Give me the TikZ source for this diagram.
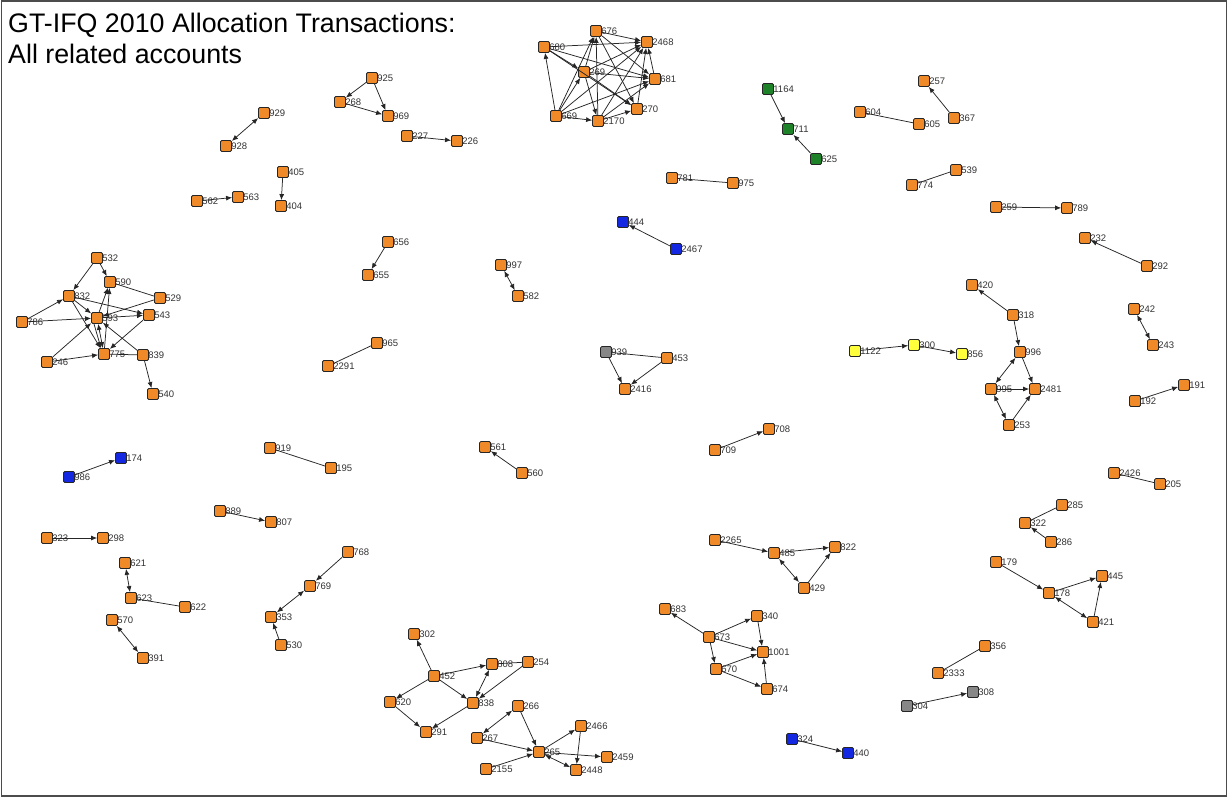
\documentclass[tikz,border=0pt]{standalone}
\usepackage{fontspec}
\setmainfont{Liberation Sans}
\usetikzlibrary{arrows.meta}
\definecolor{acorange}{RGB}{240,138,40}
\definecolor{acblue}{RGB}{20,40,225}
\definecolor{acgreen}{RGB}{30,130,40}
\definecolor{acyellow}{RGB}{255,255,60}
\definecolor{acgray}{RGB}{135,135,135}
\tikzset{
  acct/.style={rectangle, rounded corners=1.3pt, draw=black!85, line width=0.8pt,
    minimum size=11pt, inner sep=0pt},
  lbl/.style={font=\fontsize{9.5}{10}\selectfont, text=black!80, inner sep=0.3pt},
  tx/.style={draw=black!85, line width=0.75pt, -{Latex[length=6pt,width=5pt]}},
  bi/.style={draw=black!85, line width=0.75pt,
    {Latex[length=6pt,width=5pt]}-{Latex[length=6pt,width=5pt]}},
  ln/.style={draw=black!85, line width=0.75pt},
}
% one account: name, x, y, fill colour
\newcommand{\acct}[4]{\node[acct, fill=#4, label={[lbl]east:#1}] (n#1) at (#2,#3) {};}
\newcommand{\oacct}[3]{\acct{#1}{#2}{#3}{acorange}}
\begin{document}
\begin{tikzpicture}[x=1pt, y=-1pt, label distance=-1pt]
\useasboundingbox (0,0) rectangle (1228,801);
\fill[white] (0,0) rectangle (1228,801);
\draw[black!70, line width=1.6pt] (1.5,1) rectangle (1226.5,796);

\node[anchor=base west, font=\fontsize{26.8}{30}\selectfont, inner sep=0pt] (title1) at (8,32) {GT-IFQ 2010 Allocation Transactions:};
\node[anchor=base west, font=\fontsize{26.8}{30}\selectfont, inner sep=0pt] (title2) at (8,63) {All related accounts};

% ---- accounts ----
\oacct{925}{372}{78} \oacct{268}{340}{102} \oacct{969}{388}{116}
\oacct{227}{407}{136} \oacct{226}{457}{141}
\oacct{929}{264}{113} \oacct{928}{226}{146}
\oacct{405}{283}{172} \oacct{404}{281}{206}
\oacct{562}{197}{201} \oacct{563}{238}{197}

\oacct{676}{596}{31} \oacct{680}{544}{47} \oacct{2468}{647}{42} \oacct{269}{584}{72}
\oacct{681}{655}{79} \oacct{270}{637}{109} \oacct{669}{556}{116} \oacct{2170}{598}{121}

\oacct{781}{672}{178} \oacct{975}{733}{183}
\oacct{997}{501}{265} \oacct{582}{518}{296}
\oacct{453}{667}{358} \oacct{2416}{625}{389}

\oacct{257}{924}{81} \oacct{604}{860}{112} \oacct{605}{919}{124} \oacct{367}{954}{118}
\oacct{539}{956}{170} \oacct{774}{912}{185}
\oacct{259}{996}{207} \oacct{789}{1067}{208}
\oacct{232}{1085}{238} \oacct{292}{1147}{266}
\oacct{420}{972}{285} \oacct{318}{1013}{315}
\oacct{242}{1134}{309} \oacct{243}{1153}{345}
\oacct{996}{1020}{352} \oacct{995}{991}{389} \oacct{2481}{1035}{389} \oacct{253}{1009}{425}
\oacct{191}{1184}{385} \oacct{192}{1135}{401}
\oacct{2426}{1114}{473} \oacct{205}{1160}{484}
\oacct{285}{1062}{505} \oacct{322}{1025}{523} \oacct{286}{1051}{542}
\oacct{179}{996}{562} \oacct{445}{1102}{576} \oacct{178}{1049}{593} \oacct{421}{1093}{622}
\oacct{356}{985}{646} \oacct{2333}{938}{673}

\oacct{532}{97}{258} \oacct{590}{110}{282} \oacct{832}{69}{296} \oacct{529}{160}{298}
\oacct{786}{22}{322} \oacct{593}{97}{318} \oacct{543}{149}{315} \oacct{246}{47}{362}
\oacct{775}{104}{354} \oacct{839}{143}{355} \oacct{540}{153}{394}
\oacct{656}{388}{242} \oacct{655}{368}{275}
\oacct{965}{377}{343} \oacct{2291}{328}{366}

\oacct{919}{270}{448} \oacct{195}{331}{468}
\oacct{889}{220}{511} \oacct{807}{271}{522}
\oacct{323}{47}{538} \oacct{298}{103}{538}
\oacct{621}{125}{563} \oacct{623}{131}{598} \oacct{622}{185}{607}
\oacct{570}{112}{620} \oacct{391}{143}{658}
\oacct{768}{348}{552} \oacct{769}{310}{586} \oacct{353}{271}{617} \oacct{530}{281}{645}

\oacct{561}{485}{447} \oacct{560}{522}{473}
\oacct{708}{769}{429} \oacct{709}{715}{450}
\oacct{2265}{715}{540} \oacct{485}{774}{553} \oacct{822}{835}{547} \oacct{429}{804}{588}
\oacct{683}{665}{609} \oacct{340}{757}{616} \oacct{673}{709}{637} \oacct{1001}{763}{652}
\oacct{670}{716}{669} \oacct{674}{767}{689}

\oacct{302}{414}{634} \oacct{808}{492}{664} \oacct{254}{528}{662} \oacct{452}{434}{676}
\oacct{620}{390}{702} \oacct{838}{473}{703} \oacct{291}{426}{732}
\oacct{266}{518}{706} \oacct{267}{477}{738} \oacct{2466}{581}{726} \oacct{265}{539}{752}
\oacct{2459}{607}{757} \oacct{2155}{486}{769} \oacct{2448}{576}{770}

\acct{444}{623}{222}{acblue} \acct{2467}{676}{249}{acblue}
\acct{174}{121}{458}{acblue} \acct{986}{69}{477}{acblue}
\acct{324}{792}{739}{acblue} \acct{440}{848}{753}{acblue}

\acct{1164}{768}{89}{acgreen} \acct{711}{788}{129}{acgreen} \acct{625}{816}{159}{acgreen}

\acct{1122}{855}{351}{acyellow} \acct{300}{914}{345}{acyellow} \acct{856}{962}{354}{acyellow}

\acct{939}{606}{352}{acgray} \acct{304}{907}{706}{acgray} \acct{308}{973}{692}{acgray}

% ---- transfers ----
\draw[tx] (n925) -- (n268);
\draw[tx] (n925) -- (n969);
\draw[tx] (n268) -- (n969);
\draw[tx] (n227) -- (n226);
\draw[bi] (n928) -- (n929);
\draw[tx] (n405) -- (n404);
\draw[tx] (n562) -- (n563);

% dense group at the top
\draw[tx] (n680) -- (n2468);
\draw[tx] (n680) -- (n681);
\draw[tx] (n680) -- (n270);
\draw[tx] (n669) -- (n680);
\draw[tx] (n669) -- (n676);
\draw[tx] (n669) -- (n269);
\draw[tx] (n669) -- (n2468);
\draw[tx] (n669) -- (n681);
\draw[tx] (n669) -- (n2170);
\draw[tx] (n676) -- (n2468);
\draw[tx] (n676) -- (n681);
\draw[tx] (n676) -- (n270);
\draw[tx] (n269) -- (n676);
\draw[tx] (n269) -- (n2468);
\draw[tx] (n269) -- (n681);
\draw[tx] (n269) -- (n2170);
\draw[tx] (n269) -- (n270);
\draw[tx] (n2170) -- (n676);
\draw[tx] (n2170) -- (n2468);
\draw[tx] (n2170) -- (n681);
\draw[tx] (n2170) -- (n270);
\draw[tx] (n270) -- (n2468);
\draw[tx] (n681) -- (n2468);
\draw[tx] (n680) -- (n269);

\draw[ln] (n781) -- (n975);
\draw[tx] (n2467) -- (n444);
\draw[bi] (n997) -- (n582);
\draw[ln] (n939) -- (n453);
\draw[tx] (n939) -- (n2416);
\draw[tx] (n453) -- (n2416);
\draw[tx] (n1164) -- (n711);
\draw[tx] (n625) -- (n711);

\draw[tx] (n367) -- (n257);
\draw[ln] (n604) -- (n605);
\draw[ln] (n774) -- (n539);
\draw[tx] (n259) -- (n789);
\draw[tx] (n292) -- (n232);
\draw[tx] (n318) -- (n420);
\draw[tx] (n318) -- (n996);
\draw[bi] (n242) -- (n243);
\draw[tx] (n1122) -- (n300);
\draw[tx] (n300) -- (n856);
\draw[bi] (n995) -- (n996);
\draw[tx] (n996) -- (n2481);
\draw[tx] (n995) -- (n2481);
\draw[bi] (n995) -- (n253);
\draw[tx] (n253) -- (n2481);
\draw[tx] (n192) -- (n191);
\draw[ln] (n2426) -- (n205);
\draw[ln] (n285) -- (n322);
\draw[tx] (n286) -- (n322);
\draw[tx] (n179) -- (n178);
\draw[tx] (n178) -- (n445);
\draw[bi] (n178) -- (n421);
\draw[tx] (n421) -- (n445);
\draw[ln] (n356) -- (n2333);
\draw[tx] (n304) -- (n308);

% group on the left
\draw[tx] (n532) -- (n832);
\draw[tx] (n532) -- (n590);
\draw[tx] (n786) -- (n832);
\draw[tx] (n786) -- (n593);
\draw[tx] (n832) -- (n593);
\draw[tx] (n832) -- (n775);
\draw[tx] (n832) -- (n543);
\draw[ln] (n590) -- (n529);
\draw[tx] (n529) -- (n593);
\draw[tx] (n593) -- (n590);
\draw[tx] (n775) -- (n590);
\draw[tx] (n593) -- (n543);
\draw[bi] (n593) -- (n775);
\draw[tx] ([xshift=-3pt]n593.south) -- ([xshift=-3pt]n775.north);
\draw[tx] (n246) -- (n593);
\draw[tx] (n246) -- (n775);
\draw[tx] (n543) -- (n775);
\draw[tx] (n839) -- (n593);
\draw[ln] (n775) -- (n839);
\draw[tx] (n839) -- (n540);
\draw[tx] (n656) -- (n655);
\draw[ln] (n965) -- (n2291);

\draw[tx] (n986) -- (n174);
\draw[ln] (n919) -- (n195);
\draw[tx] (n889) -- (n807);
\draw[tx] (n323) -- (n298);
\draw[bi] (n621) -- (n623);
\draw[ln] (n623) -- (n622);
\draw[bi] (n570) -- (n391);
\draw[tx] (n768) -- (n769);
\draw[bi] (n769) -- (n353);
\draw[tx] (n530) -- (n353);

\draw[tx] (n560) -- (n561);
\draw[tx] (n709) -- (n708);
\draw[tx] (n2265) -- (n485);
\draw[tx] (n485) -- (n822);
\draw[bi] (n485) -- (n429);
\draw[tx] (n429) -- (n822);

\draw[tx] (n673) -- (n683);
\draw[tx] (n673) -- (n340);
\draw[tx] (n673) -- (n1001);
\draw[tx] (n673) -- (n670);
\draw[tx] (n340) -- (n1001);
\draw[tx] (n670) -- (n1001);
\draw[tx] (n670) -- (n674);
\draw[tx] (n674) -- (n1001);
\draw[tx] (n324) -- (n440);

% groups at the bottom
\draw[tx] (n452) -- (n302);
\draw[tx] (n452) -- (n808);
\draw[tx] (n452) -- (n838);
\draw[tx] (n452) -- (n620);
\draw[tx] (n620) -- (n291);
\draw[tx] (n838) -- (n291);
\draw[bi] (n838) -- (n808);
\draw[ln] (n808) -- (n254);
\draw[tx] (n254) -- (n838);
\draw[bi] (n267) -- (n266);
\draw[tx] (n266) -- (n265);
\draw[tx] (n267) -- (n265);
\draw[tx] (n2155) -- (n265);
\draw[tx] (n265) -- (n2466);
\draw[tx] (n265) -- (n2459);
\draw[bi] (n265) -- (n2448);
\draw[tx] (n2466) -- (n2448);
\end{tikzpicture}
\end{document}
